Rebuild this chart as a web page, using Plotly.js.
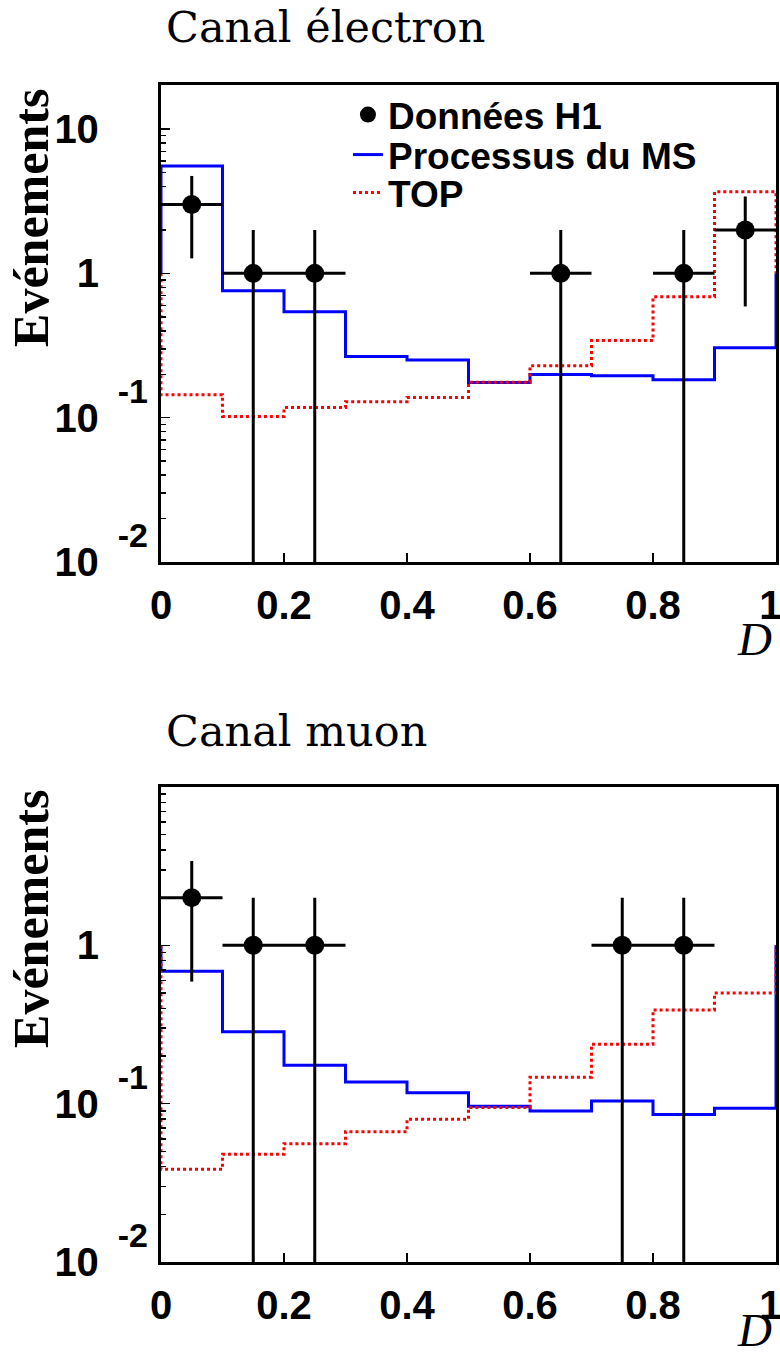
<!DOCTYPE html>
<html><head><meta charset="utf-8">
<script src="https://cdn.plot.ly/plotly-3.0.1.min.js"></script>
<style>html,body{margin:0;padding:0;background:#fff}#chart{width:780px;height:1358px}</style>
</head><body><div id="chart"></div>
<script>
// ---- data ----
const binEdges = [0, 0.1, 0.2, 0.3, 0.4, 0.5, 0.6, 0.7, 0.8, 0.9, 1.0];

const elecMS  = [5.55, 0.757, 0.543, 0.265, 0.251, 0.175, 0.199, 0.195, 0.183, 0.305];
const elecTOP = [0.144, 0.102, 0.1175, 0.129, 0.138, 0.176, 0.229, 0.343, 0.688, 3.67];
const elecDataX = [0.05, 0.15, 0.25, 0.65, 0.85, 0.95];
const elecDataY = [3, 1, 1, 1, 1, 2];
const elecErrY  = [1.73, 1, 1, 1, 1, 1.41];
const elecErrX  = [0.05, 0.05, 0.05, 0.05, 0.05, 0.05];

const muonMS  = [0.685, 0.285, 0.175, 0.137, 0.117, 0.0962, 0.0899, 0.104, 0.0853, 0.0935];
const muonTOP = [0.0385, 0.0479, 0.0559, 0.0665, 0.0796, 0.0944, 0.147, 0.237, 0.391, 0.5];
const muonDataX = [0.05, 0.15, 0.25, 0.75, 0.85];
const muonDataY = [2, 1, 1, 1, 1];
const muonErrY  = [1.41, 1, 1, 1, 1];
const muonErrX  = [0.05, 0.05, 0.05, 0.05, 0.05];

const xTickVals = [0, 0.2, 0.4, 0.6, 0.8, 1];
const xTickText = ['0', '0.2', '0.4', '0.6', '0.8', '1'];
const yTickValsTop = [10, 1, 0.1, 0.01];
const yTickValsBot = [1, 0.1, 0.01];

const legendNames = ['Données H1', 'Processus du MS', 'TOP'];
const titleTop = 'Canal électron';
const titleBot = 'Canal muon';
const yTitle = 'Evénements';
const xTitle = 'D';

// ---- helpers ----
const SANS = 'Liberation Sans, Arial, sans-serif';
const SERIF = 'DejaVu Serif, serif';
const TIMES = 'Liberation Serif, Times New Roman, serif';

function stepLine(vals) {
  const xs = [binEdges[0]], ys = [1];
  for (let i = 0; i < vals.length; i++) {
    xs.push(binEdges[i], binEdges[i + 1]);
    ys.push(vals[i], vals[i]);
  }
  xs.push(binEdges[binEdges.length - 1]); ys.push(1);
  return {xs, ys};
}
const EXP_STYLE = 'font-size:34px;baseline-shift:12px';
const pad = "<sup><span style='" + EXP_STYLE + ";color:white'>\u00a0\u00a0-1</span></sup>";
function yLabel(v) {
  if (v === 10) return '10' + pad;
  if (v === 1) return '1' + pad;
  const e = Math.round(Math.log10(v));
  return "10<sup><span style='" + EXP_STYLE + "'>\u00a0\u00a0" + e + '</span></sup>';
}
function xLabel(t, i) {
  // keep the last label inside the canvas, as in the reference
  return i === xTickText.length - 1 ? t + "<span style='color:white;font-size:20px'>1</span>" : t;
}
function minorVals(lo, hi) {
  const out = [];
  for (let e = lo; e <= hi; e++) for (let m = 2; m <= 9; m++) out.push(m * Math.pow(10, e));
  return out;
}

function histTrace(vals, color, dash, xa, ya, name, legend, show) {
  const s = stepLine(vals);
  return {x: s.xs, y: s.ys, xaxis: xa, yaxis: ya, type: 'scatter', mode: 'lines',
    line: {color: color, width: 3, dash: dash, shape: 'linear'},
    name: name, legend: legend, showlegend: show, hoverinfo: 'skip'};
}
function dataTrace(x, y, ey, ex, xa, ya, show) {
  return {x: x, y: y, xaxis: xa, yaxis: ya, type: 'scatter', mode: 'markers',
    marker: {color: 'black', size: 19, symbol: 'circle'},
    error_y: {type: 'data', array: ey, symmetric: true, color: 'black', thickness: 3, width: 0},
    error_x: {type: 'data', array: ex, symmetric: true, color: 'black', thickness: 3, width: 0},
    name: legendNames[0], legend: 'legend', showlegend: show, hoverinfo: 'skip'};
}

const traces = [
  histTrace(elecMS, '#0000ff', 'solid', 'x', 'y', legendNames[1], 'legend2', true),
  histTrace(elecTOP, '#ff0000', '3px,3px', 'x', 'y', legendNames[2], 'legend3', true),
  dataTrace(elecDataX, elecDataY, elecErrY, elecErrX, 'x', 'y', true),
  histTrace(muonMS, '#0000ff', 'solid', 'x2', 'y2', legendNames[1], 'legend2', false),
  histTrace(muonTOP, '#ff0000', '3px,3px', 'x2', 'y2', legendNames[2], 'legend3', false),
  dataTrace(muonDataX, muonDataY, muonErrY, muonErrX, 'x2', 'y2', false)
];

const tickFont = {family: SANS, size: 40, weight: 'bold', color: 'black'};
function xAxis(anchor) {
  return {range: [0, 1], anchor: anchor, tickmode: 'array', tickvals: xTickVals, ticktext: xTickText.map(xLabel),
    ticks: 'inside', ticklen: 9, tickwidth: 1.5, tickcolor: 'black',
    showline: true, linewidth: 3, linecolor: 'black', mirror: true, ticklabeloverflow: 'allow',
    showgrid: false, zeroline: false, tickfont: tickFont, ticklabelstandoff: 6, fixedrange: true};
}
function yAxis(anchor, range, domain, tickVals) {
  return {type: 'log', range: range, domain: domain, anchor: anchor,
    tickmode: 'array', tickvals: tickVals, ticktext: tickVals.map(yLabel),
    ticks: 'inside', ticklen: 9, tickwidth: 1.5, tickcolor: 'black',
    showline: true, linewidth: 3, linecolor: 'black', mirror: true,
    showgrid: false, zeroline: false, tickfont: tickFont, ticklabelstandoff: 2, fixedrange: true,
    minor: {tickvals: minorVals(-2, 1), ticks: 'inside', ticklen: 5, tickwidth: 1.5, tickcolor: 'black', showgrid: false}};
}
const legFont = {family: SANS, size: 37, weight: 'bold', color: 'black'};
function leg(y) {
  return {x: 0.304, y: y, xanchor: 'left', yanchor: 'middle', xref: 'paper', yref: 'paper',
    bgcolor: 'rgba(0,0,0,0)', borderwidth: 0, font: legFont, itemwidth: 30};
}

const layout = {
  width: 780, height: 1358,
  margin: {l: 161, r: 4, t: 85, b: 96},
  paper_bgcolor: 'white', plot_bgcolor: 'white',
  showlegend: true, hovermode: false,
  xaxis: Object.assign(xAxis('y'), {domain: [0, 1]}),
  yaxis: yAxis('x', [-2, 1.305], [0.5947, 1], yTickValsTop),
  xaxis2: Object.assign(xAxis('y2'), {domain: [0, 1]}),
  yaxis2: yAxis('x2', [-2, 1.0], [0, 0.4036], yTickValsBot),
  legend: leg(0.9745),
  legend2: leg(0.9405),
  legend3: leg(0.9082),
  annotations: [
    {text: titleTop, xref: 'paper', yref: 'paper', x: 0.005, y: 1.0493, xanchor: 'left', yanchor: 'middle',
     showarrow: false, font: {family: SERIF, size: 43, color: 'black'}},
    {text: titleBot, xref: 'paper', yref: 'paper', x: 0.005, y: 0.4511, xanchor: 'left', yanchor: 'middle',
     showarrow: false, font: {family: SERIF, size: 43, color: 'black'}},
    {text: yTitle, xref: 'paper', yref: 'paper', x: -0.2115, y: 0.9983, xanchor: 'center', yanchor: 'top',
     textangle: -90, showarrow: false, font: {family: TIMES, size: 50, weight: 'bold', color: 'black'}},
    {text: yTitle, xref: 'paper', yref: 'paper', x: -0.2115, y: 0.4027, xanchor: 'center', yanchor: 'top',
     textangle: -90, showarrow: false, font: {family: TIMES, size: 50, weight: 'bold', color: 'black'}},
    {text: '<i>' + xTitle + '</i>', xref: 'paper', yref: 'paper', x: 0.996, y: 0.5055, xanchor: 'right', yanchor: 'bottom',
     showarrow: false, font: {family: TIMES, size: 47, color: 'black'}},
    {text: '<i>' + xTitle + '</i>', xref: 'paper', yref: 'paper', x: 0.996, y: -0.0812, xanchor: 'right', yanchor: 'bottom',
     showarrow: false, font: {family: TIMES, size: 47, color: 'black'}}
  ]
};

Plotly.newPlot('chart', traces, layout, {displayModeBar: false, staticPlot: true});
</script>
</body></html>
